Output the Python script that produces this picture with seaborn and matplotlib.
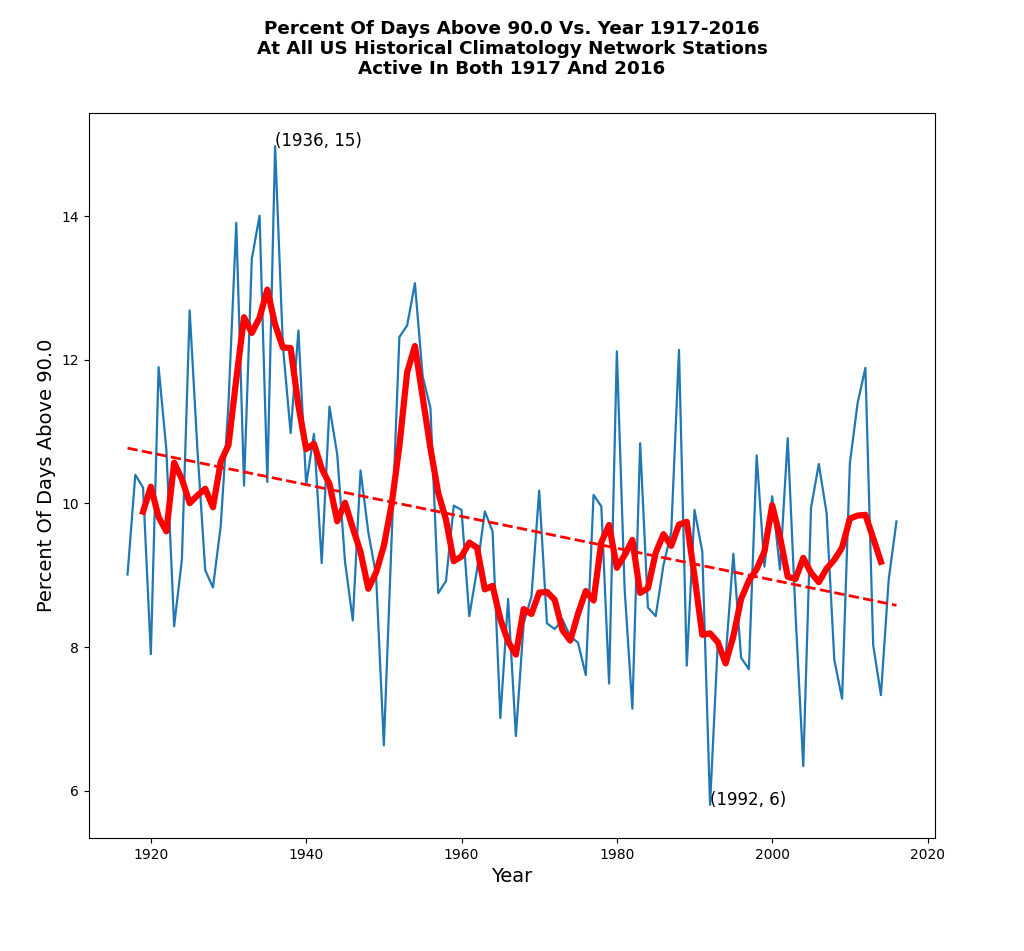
import numpy as np
import pandas as pd
import matplotlib
matplotlib.use("Agg")
import matplotlib.pyplot as plt
import seaborn as sns

# данные: процент дней выше 90.0 по годам
years = list(range(1917, 2017))
pct_above = [
    9.01, 10.40, 10.22, 7.90, 11.90, 10.75, 8.29, 9.22, 12.69, 10.75,   # 1917-1926
    9.07, 8.83, 9.69, 11.40, 13.91, 10.25, 13.41, 14.01, 10.30, 14.98,  # 1927-1936
    12.20, 10.98, 12.41, 10.26, 10.97, 9.17, 11.35, 10.68, 9.19, 8.37,  # 1937-1946
    10.46, 9.60, 9.00, 6.63, 9.50, 12.32, 12.48, 13.07, 11.77, 11.33,   # 1947-1956
    8.75, 8.92, 9.97, 9.91, 8.43, 9.08, 9.89, 9.61, 7.01, 8.67,         # 1957-1966
    6.76, 8.33, 8.70, 10.18, 8.33, 8.25, 8.38, 8.15, 8.06, 7.61,        # 1967-1976
    10.12, 9.96, 7.49, 12.12, 8.81, 7.14, 10.84, 8.55, 8.43, 9.14,      # 1977-1986
    9.60, 12.14, 7.74, 9.91, 9.33, 5.80, 8.07, 7.84, 9.30, 7.85,        # 1987-1996
    7.69, 10.67, 9.12, 10.10, 9.08, 10.91, 8.47, 6.34, 9.94, 10.55,     # 1997-2006
    9.87, 7.82, 7.28, 10.56, 11.40, 11.89, 8.03, 7.33, 8.94, 9.75,      # 2007-2016
]

title = ("Percent Of Days Above 90.0 Vs. Year 1917-2016\n"
         "At All US Historical Climatology Network Stations\n"
         "Active In Both 1917 And 2016")

df = pd.DataFrame({"year": years, "pct": pct_above})
# 5-летнее скользящее среднее и линейный тренд
df["smooth"] = df["pct"].rolling(5, center=True).mean()
coef = np.polyfit(df["year"], df["pct"], 1)
df["trend"] = np.polyval(coef, df["year"])

fig = plt.figure(figsize=(10.24, 9.51), dpi=100)
ax = fig.add_axes([0.087, 0.119, 0.826, 0.762])

sns.lineplot(data=df, x="year", y="pct", color="#1f77b4", linewidth=1.6, ax=ax)
sns.lineplot(data=df.dropna(), x="year", y="smooth", color="red", linewidth=4.5, ax=ax)
sns.lineplot(data=df, x="year", y="trend", color="red", linewidth=2, linestyle="--", ax=ax)

# подписи максимума и минимума
imax = df["pct"].idxmax()
imin = df["pct"].idxmin()
for i in (imax, imin):
    yr, val = df.loc[i, "year"], df.loc[i, "pct"]
    ax.annotate(f"({yr}, {round(val)})", xy=(yr, val), fontsize=12)

ax.set_xlabel("Year", fontsize=14)
ax.set_ylabel("Percent Of Days Above 90.0", fontsize=14)
ax.tick_params(labelsize=10)
fig.suptitle(title, fontsize=13.2, fontweight="bold", y=0.979, linespacing=1.15)

fig.savefig("out.png", dpi=100)
